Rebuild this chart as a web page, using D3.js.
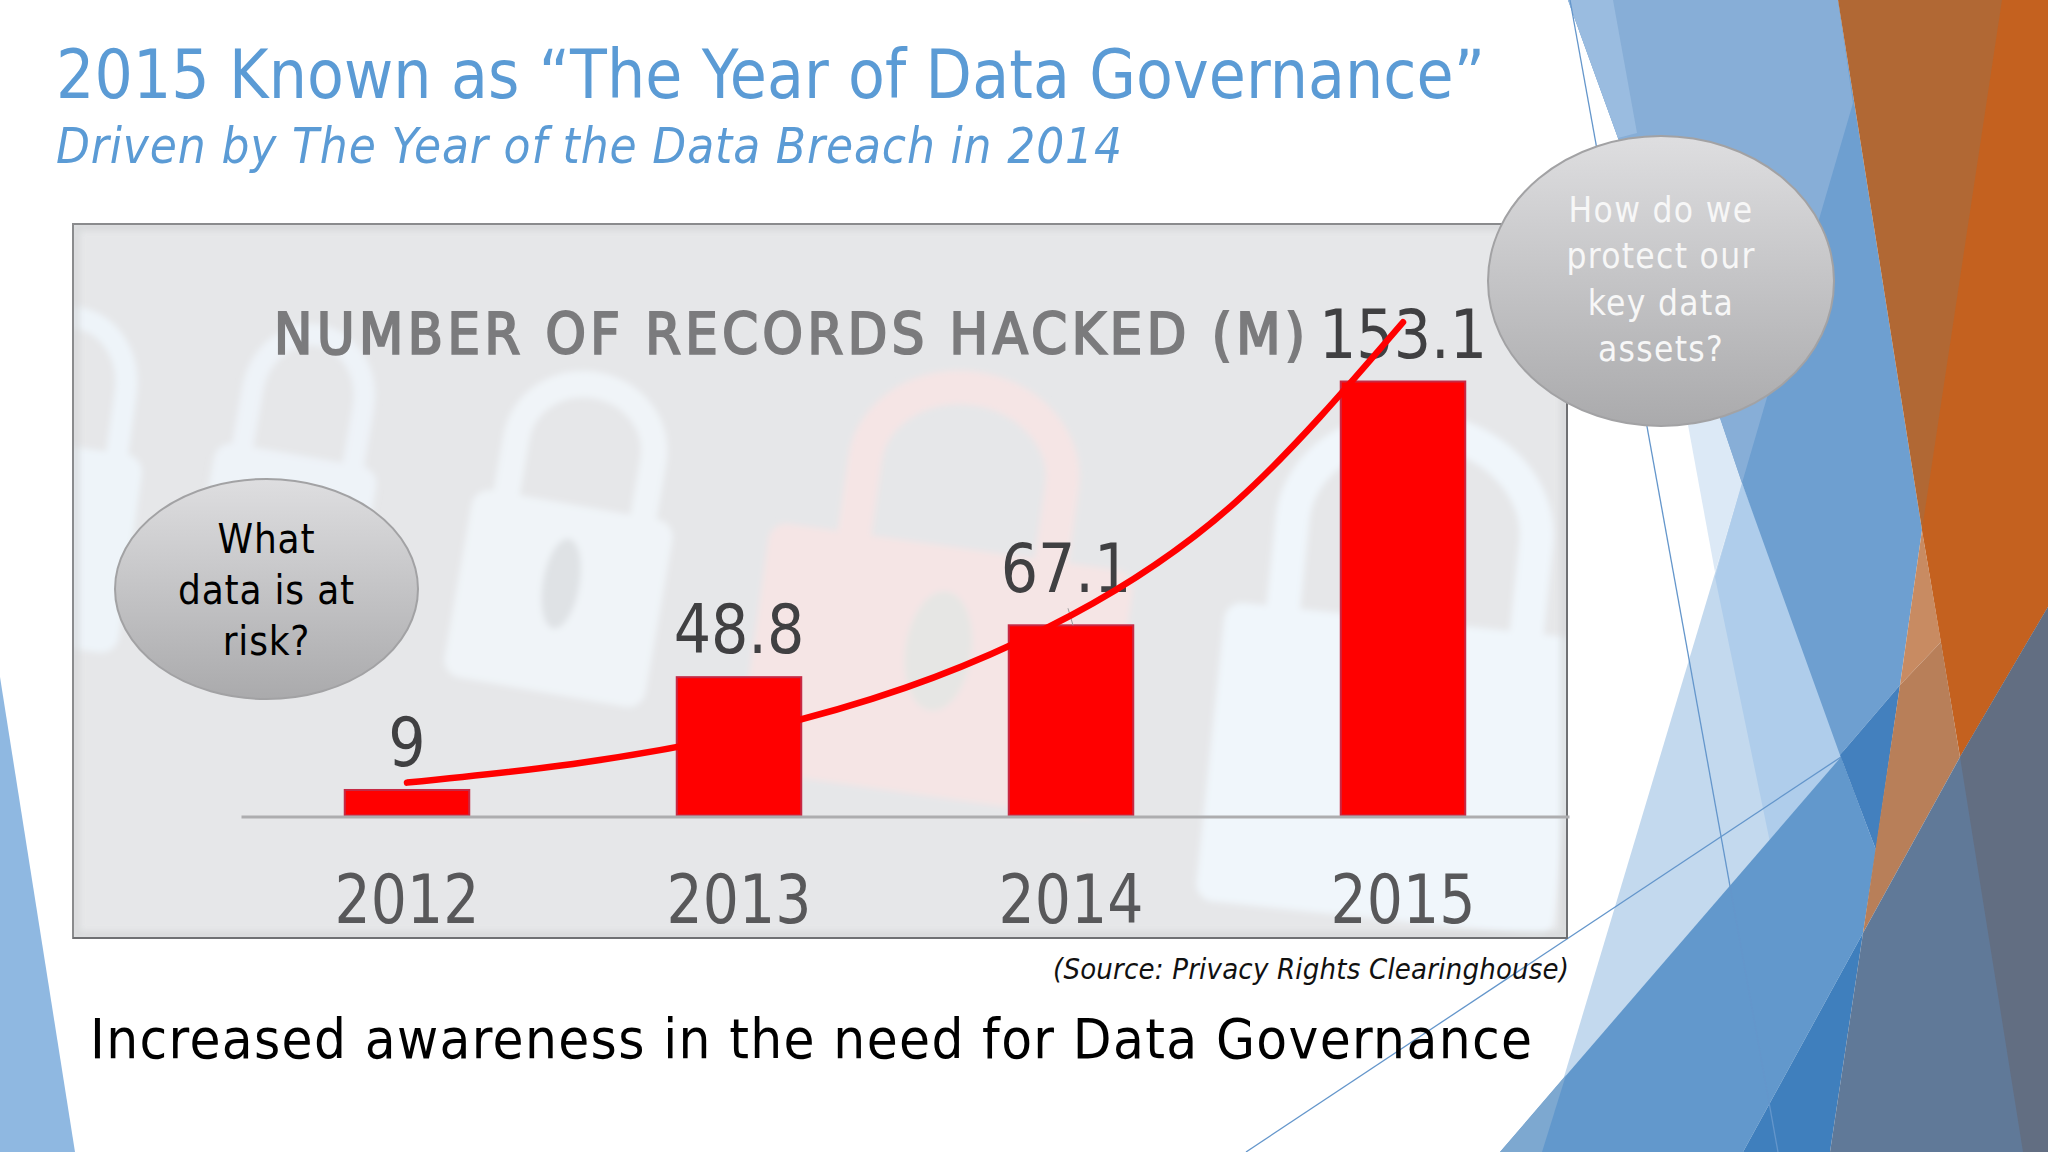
<!DOCTYPE html>
<html lang="en">
<head>
<meta charset="UTF-8">
<title>Number of records hacked</title>
<script src="https://d3js.org/d3.v7.min.js"></script>
<style>
  html, body { margin: 0; padding: 0; background: #fff; }
  svg { display: block; }
  text { font-family: "DejaVu Sans Condensed", "DejaVu Sans", sans-serif; font-stretch: condensed; }
</style>
</head>
<body>
<div id="chart"></div>
<script>
// chart values
const years = ["2012", "2013", "2014", "2015"];
const recordsHacked = [9, 48.8, 67.1, 153.1];
// red trend curve (x in years, y in millions)
const trendYears = [2012, 2012.5, 2013, 2013.5, 2014, 2014.5, 2015];
const trendValues = [11.6, 18.2, 28.6, 45, 70.6, 111, 174];

const slideTitle = "2015 Known as \u201CThe Year of Data Governance\u201D";
const slideSubtitle = "Driven by The Year of the Data Breach in 2014";
const chartTitle = "NUMBER OF RECORDS HACKED (M)";
const sourceNote = "(Source: Privacy Rights Clearinghouse)";
const takeaway = "Increased awareness in the need for Data Governance";
const leftBubbleLines = ["What", "data is at", "risk?"];
const rightBubbleLines = ["How do we", "protect our", "key data", "assets?"];

const width = 2048, height = 1152;
const svg = d3.select("#chart").append("svg").attr("width", width).attr("height", height);
const defs = svg.append("defs");

// background facets of the slide theme
function facet(points, fill) {
  svg.append("polygon")
    .attr("points", points.map(p => p.join(",")).join(" "))
    .attr("fill", fill);
}
function hairline(x1, y1, x2, y2) {
  svg.append("line").attr("x1", x1).attr("y1", y1).attr("x2", x2).attr("y2", y2)
    .attr("stroke", "#6496cb").attr("stroke-width", 1.3);
}

facet([[0, 677], [75, 1152], [0, 1152]], "#8fb8e1");

// pale sheets under the blue
facet([[1688, 425], [1720, 418], [1742, 483], [1715, 572]], "#dce9f6");
facet([[1742, 483], [1840, 755], [1555, 1107]], "#c3d9ee");
facet([[1742, 483], [1845, 755], [1772, 852], [1715, 577]], "#afcdeb");

// top blue sheet
facet([[1618, 138], [1568, 0], [1838, 0], [1922, 530], [1900, 685], [1840, 755], [1742, 483], [1720, 418]], "#6e9fd0");
facet([[1568, 0], [1838, 0], [1853, 103], [1742, 483], [1720, 418], [1618, 138]], "#87aed7");
facet([[1568, 0], [1613, 0], [1637, 133], [1618, 138]], "#9abce0");

// lower blue sheet
facet([[1500, 1152], [1841, 757], [1876, 850], [1863, 933], [1743, 1152]], "#6298cc");
facet([[1500, 1152], [1566, 1075], [1542, 1152]], "#7da8d0");
facet([[1840, 755], [1900, 685], [1876, 850]], "#4380be");
facet([[1743, 1152], [1863, 933], [1830, 1152]], "#3f7fbd");

// orange sheets, each one overlapping the last so no seam shows
facet([[1838, 0], [2010, 0], [1935, 600], [1922, 530]], "#b16834");
facet([[2002, 0], [2048, 0], [2048, 607], [1960, 757], [1922, 530]], "#c4611f");
facet([[1922, 530], [1941, 642], [1900, 685]], "#c88b62");
facet([[1900, 685], [1941, 642], [1960, 757], [1863, 933]], "#b87f59");

// slate sheets
facet([[1830, 1152], [1863, 933], [1960, 757], [2048, 607], [2048, 1152]], "#607998");
facet([[1960, 757], [2048, 607], [2048, 1152], [2023, 1152]], "#626e82");

hairline(1570, 0, 1778, 1152);
hairline(1246, 1152, 1841, 757);

// photo panel behind the chart
const panel = { x: 73, y: 224, w: 1494, h: 714 };
const clip = defs.append("clipPath").attr("id", "panel-clip");
clip.append("rect").attr("x", panel.x).attr("y", panel.y).attr("width", panel.w).attr("height", panel.h);

const blur = defs.append("filter").attr("id", "soft").attr("x", "-20%").attr("y", "-20%").attr("width", "140%").attr("height", "140%");
blur.append("feGaussianBlur").attr("stdDeviation", 3);

svg.append("rect").attr("x", panel.x).attr("y", panel.y).attr("width", panel.w).attr("height", panel.h)
  .attr("fill", "#e6e7e9");

const locks = svg.append("g").attr("clip-path", "url(#panel-clip)");
function lock(cx, cy, w, h, angle, colour, keyhole, shackle) {
  const s = shackle || 0.34;
  const g = locks.append("g")
    .attr("transform", `translate(${cx},${cy}) rotate(${angle})`)
    .attr("filter", "url(#soft)");
  g.append("rect").attr("x", -w / 2).attr("y", 0).attr("width", w).attr("height", h)
    .attr("rx", 18).attr("fill", colour);
  g.append("path")
    .attr("d", `M${-w * s},4 V${-h * 0.3} a${w * s},${h * 0.34} 0 0 1 ${w * s * 2},0 V4`)
    .attr("fill", "none").attr("stroke", colour).attr("stroke-width", Math.min(w * 0.13, 34));
  if (keyhole) {
    g.append("ellipse").attr("cx", 0).attr("cy", h * 0.42).attr("rx", w * 0.09).attr("ry", h * 0.24)
      .attr("fill", keyhole);
  }
}
lock(60, 445, 170, 200, 8, "#eef4f9");
lock(298, 455, 165, 190, 10, "#eef3f8");
lock(575, 505, 204, 190, 10, "#f0f4f8", "#dfe2e5");
lock(953, 547, 368, 250, 8, "#f5e5e5", "#e6e6e4", 0.27);
lock(1405, 620, 360, 300, 6, "#f0f6fb");

// bevelled frame
svg.append("rect").attr("x", panel.x + 3).attr("y", panel.y + 3).attr("width", panel.w - 6).attr("height", panel.h - 6)
  .attr("fill", "none").attr("stroke", "#cfd0d2").attr("stroke-width", 6).attr("opacity", 0.7)
  .attr("filter", "url(#soft)").attr("clip-path", "url(#panel-clip)");
svg.append("rect").attr("x", panel.x).attr("y", panel.y).attr("width", panel.w).attr("height", panel.h)
  .attr("fill", "none").attr("stroke", "#8a8b8d").attr("stroke-width", 2);
svg.append("path")
  .attr("d", `M${panel.x},${panel.y + panel.h} H${panel.x + panel.w} V${panel.y}`)
  .attr("fill", "none").attr("stroke", "#6f7073").attr("stroke-width", 2);

// scales
const baseline = 815.5;
const x = d3.scaleBand().domain(years).range([241, 1569]).paddingInner(0.625).paddingOuter(0.3125);
const y = d3.scaleLinear().domain([0, 153.1]).range([baseline, 381.5]);
const xTrend = d3.scaleLinear().domain([2012, 2015])
  .range([x("2012") + x.bandwidth() / 2, x("2015") + x.bandwidth() / 2]);

// digits in the reference are narrower than the condensed face
function narrow(sel, factor) {
  sel.each(function () {
    const len = this.getComputedTextLength();
    d3.select(this).attr("textLength", len * factor).attr("lengthAdjust", "spacingAndGlyphs");
  });
}

// title of the chart
svg.append("text").attr("x", 274).attr("y", 354).text(chartTitle)
  .attr("font-size", 57).attr("fill", "#7b7b7d")
  .attr("stroke", "#7b7b7d").attr("stroke-width", 2.2)
  .attr("textLength", 1031).attr("lengthAdjust", "spacing");

// bars
svg.append("g").selectAll("rect").data(years).join("rect")
  .attr("x", d => x(d))
  .attr("y", (d, i) => y(recordsHacked[i]))
  .attr("width", x.bandwidth())
  .attr("height", (d, i) => baseline - y(recordsHacked[i]))
  .attr("fill", "#ff0000")
  .attr("stroke", "#c62a45")
  .attr("stroke-width", 2);

// x axis
const xAxis = svg.append("g")
  .attr("transform", `translate(0,${baseline + 1})`)
  .call(d3.axisBottom(x).tickSize(0));
xAxis.select(".domain").attr("stroke", "#adadaf").attr("stroke-width", 3);
xAxis.selectAll("text")
  .style("font-family", '"DejaVu Sans Condensed", "DejaVu Sans", sans-serif')
  .attr("y", 106.5).attr("dy", 0)
  .attr("font-size", 68).attr("fill", "#58585a")
  .call(narrow, 0.93);

// leader from the moved 2014 label
svg.append("line")
  .attr("x1", x("2014") + x.bandwidth() / 2 - 3).attr("y1", y(67.1) - 17)
  .attr("x2", x("2014") + x.bandwidth() / 2 + 2).attr("y2", y(67.1))
  .attr("stroke", "#9a9a9a").attr("stroke-width", 1);

// value labels
svg.append("g").selectAll("text").data(years).join("text")
  .attr("x", d => x(d) + x.bandwidth() / 2 + (d === "2014" ? -5 : 0))
  .attr("y", (d, i) => y(recordsHacked[i]) - (d === "2014" ? 33 : 24))
  .attr("text-anchor", "middle")
  .attr("font-size", 68)
  .attr("fill", "#404042")
  .text((d, i) => recordsHacked[i])
  .call(narrow, 0.96);

// trend curve
const trendLine = d3.line()
  .x((d, i) => xTrend(trendYears[i]))
  .y(d => y(d))
  .curve(d3.curveNatural);
svg.append("path").datum(trendValues)
  .attr("d", trendLine)
  .attr("fill", "none")
  .attr("stroke", "#ff0000")
  .attr("stroke-width", 6.5)
  .attr("stroke-linecap", "round");

// bubbles
const grad = defs.append("linearGradient").attr("id", "bubble").attr("x1", 0).attr("y1", 0).attr("x2", 0).attr("y2", 1);
grad.append("stop").attr("offset", "0%").attr("stop-color", "#dedee0");
grad.append("stop").attr("offset", "100%").attr("stop-color", "#aaaaac");

function bubble(cx, cy, rx, ry, lines, firstBase, step, size, colour, spacing) {
  svg.append("ellipse").attr("cx", cx).attr("cy", cy).attr("rx", rx).attr("ry", ry)
    .attr("fill", "url(#bubble)").attr("stroke", "#a2a2a4").attr("stroke-width", 2);
  svg.append("g").selectAll("text").data(lines).join("text")
    .attr("x", cx)
    .attr("y", (d, i) => firstBase + i * step)
    .attr("text-anchor", "middle")
    .attr("font-size", size)
    .attr("letter-spacing", spacing)
    .attr("fill", colour)
    .text(d => d);
}
bubble(266.5, 589, 151.5, 110, leftBubbleLines, 553, 51, 40, "#000000", 0.8);
bubble(1661, 281, 173, 145, rightBubbleLines, 222, 46.3, 35, "#f7f7f7", 1.3);

// slide texts
svg.append("text").attr("x", 56).attr("y", 98).text(slideTitle)
  .attr("font-size", 67).attr("fill", "#5b9bd5")
  .attr("textLength", 1429).attr("lengthAdjust", "spacing");
svg.append("text").attr("x", 56).attr("y", 163).text(slideSubtitle)
  .attr("font-size", 49).attr("font-style", "italic").attr("fill", "#5b9bd5")
  .attr("textLength", 1066).attr("lengthAdjust", "spacing");
svg.append("text").attr("x", 1053).attr("y", 979).text(sourceNote)
  .attr("font-size", 29).attr("font-style", "italic").attr("fill", "#111111")
  .attr("textLength", 516).attr("lengthAdjust", "spacing");
svg.append("text").attr("x", 90).attr("y", 1058).text(takeaway)
  .attr("font-size", 56).attr("fill", "#000000")
  .attr("textLength", 1442).attr("lengthAdjust", "spacing");
</script>
</body>
</html>
